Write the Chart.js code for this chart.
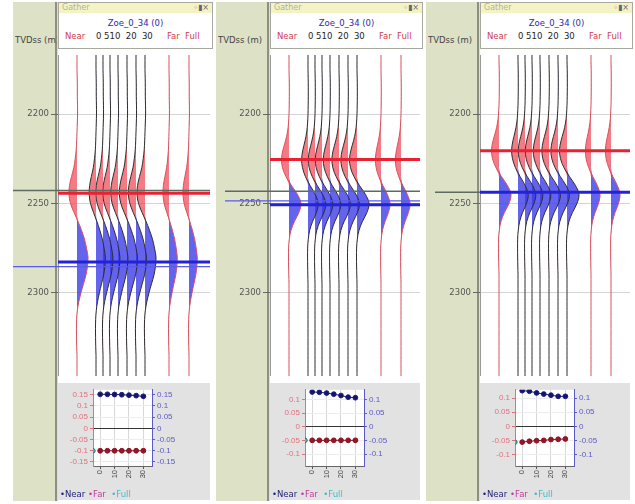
<!DOCTYPE html>
<html>
<head>
<meta charset="utf-8">
<script src="https://cdn.jsdelivr.net/npm/chart.js@4.4.1/dist/chart.umd.min.js"></script>
<style>
  body { margin: 0; background: #fff; font-family: "DejaVu Sans", sans-serif; }
  #root { position: relative; width: 635px; height: 504px; overflow: hidden; }
  .abs { position: absolute; }
  .col { background: #dde1c5; }
  .sep { background: #8c9080; }
  .head { background: #fff; border: 1px solid #a8a8a0; box-sizing: border-box; }
  .bar { position: absolute; left: 0; right: 0; top: 0; height: 10px; background: #f3f3c6; font-size: 8px; line-height: 10px; color: #b8b090; padding-left: 3px; }
  .bar span { position: absolute; right: 3px; top: 0; color: #666; }
  .title { position: absolute; left: 0; right: 0; top: 15px; text-align: center; font-size: 8.5px; color: #2c2ca8; }
  .lab { position: absolute; top: 28px; font-size: 8.5px; white-space: nowrap; }
  .tvd { font-size: 8.5px; color: #444; white-space: nowrap; overflow: hidden; }
  .xp { background: #e2e2e2; }
  .leg { font-size: 8.5px; white-space: nowrap; }
</style>
</head>
<body>
<div id="root"></div>
<script>
// depth samples (m) and depth ticks
const DEPTHS = [2165, 2170, 2175, 2180, 2185, 2190, 2195, 2200, 2205, 2210, 2215, 2220, 2225, 2230,
  2235, 2240, 2245, 2250, 2255, 2260, 2265, 2270, 2275, 2280, 2285, 2290, 2295, 2300, 2305, 2310,
  2315, 2320, 2325, 2330, 2335, 2340, 2345, 2350];
const DEPTH_TICKS = [2200, 2250, 2300];

// traces of the gather
const TRACE_NAMES = ['Near', '0', '5', '10', '15', '20', '25', '30', 'Far', 'Full'];
const TRACE_POS = [19, 38, 45, 52, 60, 69, 78, 87, 111, 131];
const TRACE_GAIN = [1.0, 0.85, 0.9, 0.9, 0.9, 0.95, 0.95, 1.0, 0.75, 0.75];
const TRACE_RED = [true, false, false, false, false, false, false, false, true, true];

// wavelet amplitude read at each depth sample, one list per panel
const WAVELET_1 = [0, 0, 0, 0.2, 0.3, 0.3, 0.5, 0.6, 0.3, 0, -0.3, -0.8, -1.8, -3.2, -5.5, -7.5, -8, -6.5,
  -3, 1, 4.5, 7.5, 9.5, 11, 10.5, 9, 6.5, 4, 1.8, 0.3, -0.4, -0.6, -0.5, -0.3, 0, 0, 0, 0];
const WAVELET_2 = [0, 0, 0, 0.2, 0.3, 0.3, 0.2, 0, -0.5, -1.5, -3.5, -6, -7.5, -6.5, -3, 2.5, 8.5, 12,
  10, 5.5, 2, 0.3, -0.4, -0.5, -0.4, -0.2, 0, 0, 0, 0, 0, 0, 0, 0, 0, 0, 0, 0];
const WAVELET_3 = [0, 0, 0.2, 0.3, 0.3, 0.2, 0, -0.5, -1.5, -3.5, -6, -7.5, -6.5, -3, 2.5, 8.5, 12, 10,
  5.5, 2, 0.3, -0.4, -0.5, -0.4, -0.2, 0, 0, 0, 0, 0, 0, 0, 0, 0, 0, 0, 0, 0];

// picked horizons (depth, m) per panel
const RED_PICK = [2244.3, 2225.4, 2220.5];
const BLUE_PICK = [2282.7, 2250.8, 2243.8];
const MARKER = [2242.7, 2243.2, 2243.8];
const BLUE_MARKER = [2285.4, 2248.6, null];

// AVO crossplot values
const ANGLES = [0, 5, 10, 15, 20, 25, 30];
const ANGLE_TICKS = [0, 5, 10, 15, 20, 25, 30];
const NEAR_1 = [0.152, 0.152, 0.151, 0.150, 0.148, 0.146, 0.143];
const FAR_1 = [-0.1, -0.1, -0.1, -0.1, -0.1, -0.1, -0.1];
const NEAR_2 = [0.128, 0.127, 0.124, 0.120, 0.115, 0.109, 0.107];
const FAR_2 = [-0.049, -0.049, -0.049, -0.049, -0.049, -0.049, -0.049];
const NEAR_3 = [0.126, 0.124, 0.118, 0.114, 0.110, 0.106, 0.106];
const FAR_3 = [-0.055, -0.052, -0.050, -0.049, -0.046, -0.045, -0.044];
const FULL = [-0.1, -0.049, -0.055];
const AMP_TICKS_1 = [-0.15, -0.1, -0.05, 0, 0.05, 0.1, 0.15];
const AMP_TICKS_2 = [-0.1, -0.05, 0, 0.05, 0.1];
const AMP_RANGE = [[-0.168, 0.172], [-0.143, 0.136], [-0.139, 0.129]];

const WAVELETS = [WAVELET_1, WAVELET_2, WAVELET_3];
const NEARS = [NEAR_1, NEAR_2, NEAR_3];
const FARS = [FAR_1, FAR_2, FAR_3];
const AMP_TICKS = [AMP_TICKS_1, AMP_TICKS_2, AMP_TICKS_2];

// layout of the three panels
const PANELS = [
  {colL: 13, trackL: 58, trackR: 210},
  {colL: 216, trackL: 270, trackR: 420},
  {colL: 426, trackL: 480, trackR: 630}
];
const AXIS_W = 45;

const root = document.getElementById('root');
function el(cls, x, y, w, h, html) {
  const d = document.createElement('div');
  d.className = 'abs ' + cls;
  d.style.left = x + 'px'; d.style.top = y + 'px';
  if (w != null) d.style.width = w + 'px';
  if (h != null) d.style.height = h + 'px';
  if (html) d.innerHTML = html;
  root.appendChild(d);
  return d;
}

const whiteArea = {
  id: 'whiteArea',
  beforeDraw(chart) {
    const a = chart.chartArea, c = chart.ctx;
    c.save();
    c.fillStyle = '#fff';
    c.fillRect(a.left, a.top, a.right - a.left, a.bottom - a.top);
    c.restore();
  }
};

function lineSet(points, color, width, extra) {
  return Object.assign({data: points, borderColor: color, borderWidth: width, pointRadius: 0,
    fill: false, tension: 0}, extra || {});
}
const plain = v => String(+Number(v).toFixed(3));

PANELS.forEach((p, n) => {
  const trackW = p.trackR - p.trackL;
  el('col', p.colL, 2, p.trackL - p.colL, 499);
  el('sep', p.trackL - 3, 2, 2, 499);
  el('tvd', p.colL + 2, 35, p.trackL - p.colL - 3, 12, 'TVDss (m)');

  const h = el('head', p.trackL, 2, trackW + 3, 47);
  h.innerHTML = '<div class="bar">Gather<span>&#9702;&#9646;&#215;</span></div>' +
    '<div class="title">Zoe_0_34 (0)</div>' +
    '<div class="lab" style="left:6px;color:#d0404e">Near</div>' +
    '<div class="lab" style="left:37px;color:#222">0 510&nbsp; 20&nbsp; 30</div>' +
    '<div class="lab" style="left:108px;color:#d0404e">Far</div>' +
    '<div class="lab" style="left:126px;color:#d0404e">Full</div>';

  // gather display
  const wrap = el('', p.trackL - AXIS_W, 48, trackW + AXIS_W + 3, 335);
  const cv = document.createElement('canvas');
  cv.width = trackW + AXIS_W + 3; cv.height = 335;
  wrap.appendChild(cv);

  const w = WAVELETS[n];
  const sets = [];
  const ext = -AXIS_W + (p.colL - (p.trackL - AXIS_W));
  sets.push(lineSet([{x: 0, y: RED_PICK[n]}, {x: trackW, y: RED_PICK[n]}], '#e82232', 3));
  sets.push(lineSet([{x: 0, y: BLUE_PICK[n]}, {x: trackW, y: BLUE_PICK[n]}], '#2222d8', 3));
  if (BLUE_MARKER[n] != null)
    sets.push(lineSet([{x: ext, y: BLUE_MARKER[n]}, {x: trackW, y: BLUE_MARKER[n]}], '#5a5ae8', 1.2, {clip: false}));
  sets.push(lineSet([{x: ext, y: MARKER[n]}, {x: trackW, y: MARKER[n]}], '#5f6b60', 1.5, {clip: false}));

  TRACE_POS.forEach((pos, k) => {
    const g = TRACE_GAIN[k];
    sets.push(lineSet(DEPTHS.map((d, i) => ({x: pos + g * w[i], y: d})),
      TRACE_RED[k] ? '#d8505e' : '#2e2e2e', 1, {tension: 0.35, label: TRACE_NAMES[k]}));
    sets.push({data: DEPTHS.map((d, i) => ({x: pos + Math.max(0, g * w[i]), y: d})), borderWidth: 0,
      pointRadius: 0, tension: 0.35, backgroundColor: 'rgba(55,55,232,0.78)', fill: {value: pos}});
    sets.push({data: DEPTHS.map((d, i) => ({x: pos + Math.min(0, g * w[i]), y: d})), borderWidth: 0,
      pointRadius: 0, tension: 0.35, backgroundColor: 'rgba(240,72,84,0.72)', fill: {value: pos}});
  });

  new Chart(cv, {
    type: 'line',
    data: {datasets: sets},
    plugins: [whiteArea],
    options: {
      responsive: false, animation: false, indexAxis: 'y',
      layout: {padding: {top: 2, right: 3, bottom: 1, left: 0}},
      plugins: {legend: {display: false}, tooltip: {enabled: false}},
      scales: {
        x: {type: 'linear', min: 0, max: trackW, display: false},
        y: {
          type: 'linear', reverse: true, min: 2167, max: 2346.5,
          afterBuildTicks: s => { s.ticks = DEPTH_TICKS.map(v => ({value: v})); },
          afterFit: s => { s.width = AXIS_W; },
          ticks: {color: '#555', font: {size: 8.5, family: 'DejaVu Sans'}, padding: 2, callback: plain},
          grid: {color: '#d4d4d4', tickLength: 7, tickColor: '#666'},
          border: {color: '#999'}
        }
      }
    }
  });

  // AVO crossplot
  const xw = el('xp', p.trackL, 383, trackW, 117);
  const xc = document.createElement('canvas');
  xc.width = trackW; xc.height = 117;
  xw.appendChild(xc);
  const rng = AMP_RANGE[n];
  const ampTicks = AMP_TICKS[n];
  new Chart(xc, {
    type: 'scatter',
    data: {datasets: [
      {label: 'Near', data: ANGLES.map((a, i) => ({x: a, y: NEARS[n][i]})), yAxisID: 'yR', showLine: true,
        borderColor: '#1c1c80', backgroundColor: '#14146e', borderWidth: 1, pointRadius: 2.4},
      {label: 'Far', data: ANGLES.map((a, i) => ({x: a, y: FARS[n][i]})), yAxisID: 'yL', showLine: true,
        borderColor: '#8c1020', backgroundColor: '#9a1426', borderWidth: 1, pointRadius: 2.4},
      {label: 'Full', data: [{x: -5, y: FULL[n]}], yAxisID: 'yL',
        backgroundColor: '#45c0b8', borderColor: '#2a7070', pointRadius: 2.2}
    ]},
    plugins: [whiteArea],
    options: {
      responsive: false, animation: false,
      layout: {padding: {top: 6, right: 0, bottom: 0, left: 0}},
      plugins: {legend: {display: false}, tooltip: {enabled: false}},
      scales: {
        x: {
          type: 'linear', min: -5, max: 36,
          afterBuildTicks: s => { s.ticks = ANGLE_TICKS.map(v => ({value: v})); },
          afterFit: s => { s.height = 34; },
          ticks: {minRotation: 90, maxRotation: 90, color: '#444', font: {size: 7.5}, padding: 1},
          grid: {color: '#d8d8d8', tickLength: 3, tickColor: '#555'},
          border: {color: '#666'}
        },
        yL: {
          position: 'left', min: rng[0], max: rng[1],
          afterBuildTicks: s => { s.ticks = ampTicks.map(v => ({value: v})); },
          afterFit: s => { s.width = 35; },
          ticks: {color: '#e0707c', font: {size: 8}, padding: 2, callback: plain},
          grid: {color: c => (c.tick && c.tick.value === 0 ? '#333' : '#ececec'), tickLength: 3, tickColor: '#e0707c'},
          border: {color: '#e0707c'}
        },
        yR: {
          position: 'right', min: rng[0], max: rng[1],
          afterBuildTicks: s => { s.ticks = ampTicks.map(v => ({value: v})); },
          afterFit: s => { s.width = trackW - 35 - 59; },
          ticks: {color: '#5a5ac8', font: {size: 8}, padding: 2, callback: plain},
          grid: {drawOnChartArea: false, tickLength: 3, tickColor: '#5a5ac8'},
          border: {color: '#5a5ac8'}
        }
      }
    }
  });
  el('leg', p.trackL + 2, 489, null, null,
    '<span style="color:#22227a">&#8226;Near</span> <span style="color:#c03c9c">&#8226;Far</span> &nbsp;<span style="color:#3cbcd0">&#8226;Full</span>');
});
</script>
</body>
</html>
